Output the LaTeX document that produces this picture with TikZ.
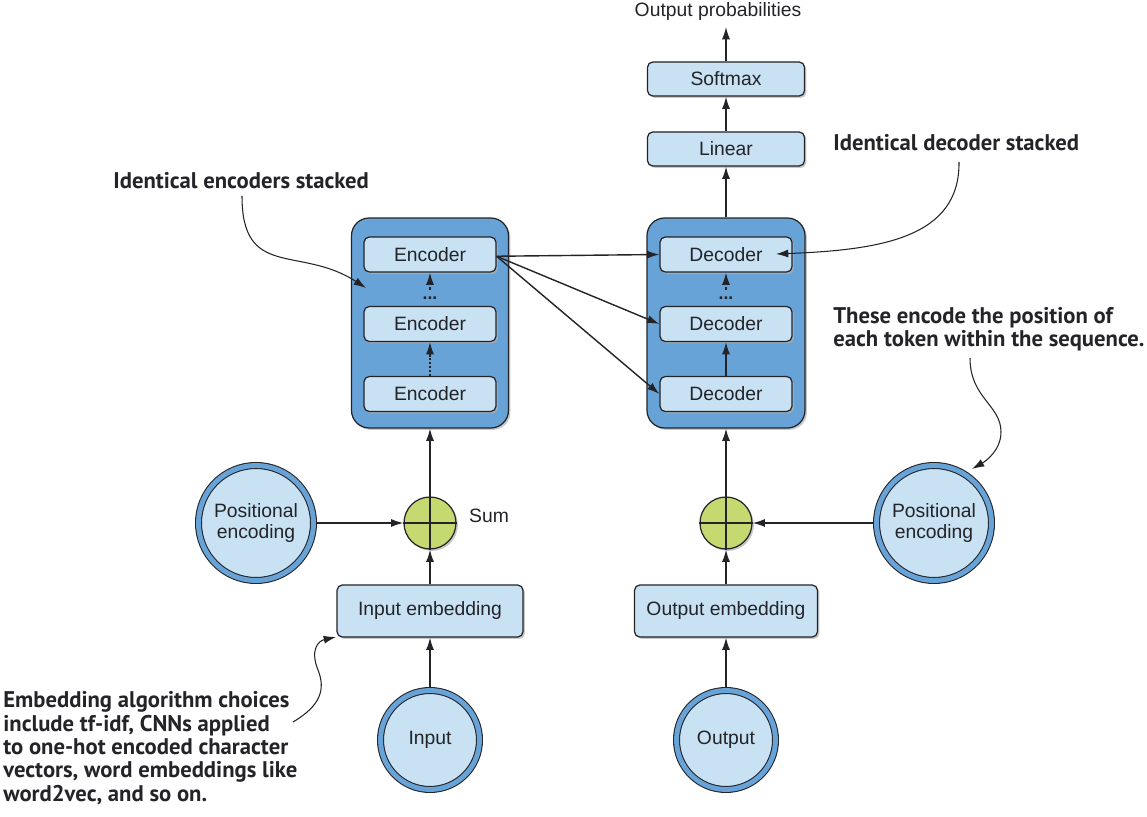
\documentclass[tikz,border=0pt]{standalone}
\usepackage{fontspec}
\setmainfont{Liberation Sans}
\newfontfamily\annofont{PT Sans}
\usetikzlibrary{arrows.meta,shadows}
\definecolor{outerblue}{RGB}{104,163,216}
\definecolor{lightblue}{RGB}{200,226,244}
\definecolor{sumgreen}{RGB}{196,218,112}
\definecolor{edge}{RGB}{35,35,40}
\tikzset{
  shade/.style={drop shadow={shadow xshift=1.1pt,shadow yshift=-1.1pt,fill=black!30,opacity=0.7}},
  txt/.style={font=\fontsize{11}{13}\selectfont, text=edge},
  box/.style={txt, draw=edge, line width=0.7pt, fill=lightblue, rounded corners=3pt, shade, inner sep=0pt},
  stackbox/.style={draw=edge, line width=0.7pt, fill=outerblue, rounded corners=10pt, shade,
     minimum width=3.14cm, minimum height=4.2cm, inner sep=0pt},
  cellbox/.style={box, minimum width=2.64cm, minimum height=0.70cm},
  topbox/.style={box, minimum width=3.14cm, minimum height=0.68cm},
  embbox/.style={box, minimum height=1.04cm},
  ring/.style={txt, circle, draw=edge, line width=0.6pt, double=outerblue, double distance=2.8pt,
     fill=lightblue, align=center, inner sep=0pt, outer sep=2pt, shade},
  sumnode/.style={circle, draw=edge, line width=0.7pt, fill=sumgreen, minimum size=1.04cm, inner sep=0pt, shade},
  arr/.style={draw=edge, line width=0.8pt, -{Latex[length=7pt,width=4.6pt]}},
  dasharr/.style={arr, dash pattern=on 2pt off 1.5pt},
  dotarr/.style={arr, dash pattern=on 1.2pt off 1pt},
  annoarr/.style={draw=edge, line width=0.6pt, -{Latex[length=7pt,width=4.6pt]}},
  anno/.style={font=\annofont\bfseries\fontsize{12.9}{13.3}\selectfont, text=edge, align=left, inner sep=0pt, anchor=west},
  dots/.style={font=\bfseries\fontsize{10}{10}\selectfont, text=edge, inner sep=0pt}
}
\begin{document}
\begin{tikzpicture}[x=0.02cm,y=-0.02cm]
\useasboundingbox (0,0) rectangle (1147,817);

% stacks
\node[stackbox] (encouter) at (430,323) {};
\node[stackbox, minimum width=3.16cm] (decouter) at (726,323) {};
\node[cellbox] (enc1) at (430,254.5) {Encoder};
\node[cellbox] (enc2) at (430,324) {Encoder};
\node[cellbox] (enc3) at (430,394) {Encoder};
\node[cellbox] (dec1) at (726,254.5) {Decoder};
\node[cellbox] (dec2) at (726,324) {Decoder};
\node[cellbox] (dec3) at (726,394) {Decoder};
\node[dots] (edots) at (430,298) {...};
\node[dots] (ddots) at (726,298) {...};

% top
\node[topbox] (linear) at (726,149) {Linear};
\node[topbox] (softmax) at (726,79) {Softmax};
\node[txt, inner sep=0pt] (outprob) at (718,12) {Output probabilities};
\coordinate (probtip) at (726,27);

% sums and positional encodings
\node[sumnode] (sum1) at (430,523) {};
\node[sumnode] (sum2) at (726,523) {};
\draw[edge, line width=0.7pt] (sum1.north) -- (sum1.south) (sum1.west) -- (sum1.east);
\draw[edge, line width=0.7pt] (sum2.north) -- (sum2.south) (sum2.west) -- (sum2.east);
\node[txt, inner sep=0pt] (sumlabel) at (489,516) {Sum};
\node[ring, minimum size=2.3cm] (pe1) at (256,523) {Positional\\[-1pt]encoding};
\node[ring, minimum size=2.3cm] (pe2) at (934,523) {Positional\\[-1pt]encoding};

% embeddings and inputs
\node[embbox, minimum width=3.72cm] (inemb) at (430,611) {Input embedding};
\node[embbox, minimum width=3.66cm] (outemb) at (726,611) {Output embedding};
\node[ring, minimum size=1.98cm] (inp) at (430,740) {Input};
\node[ring, minimum size=1.98cm] (outp) at (726,740) {Output};

% main connectors
\draw[arr] (inp) -- (inemb);
\draw[arr] (inemb) -- (sum1);
\draw[arr] (sum1) -- (encouter);
\draw[arr] (pe1) -- (sum1);
\draw[arr] (outp) -- (outemb);
\draw[arr] (outemb) -- (sum2);
\draw[arr] (sum2) -- (decouter);
\draw[arr] (pe2) -- (sum2);
\draw[arr] (decouter) -- (linear);
\draw[arr] (linear) -- (softmax);
\draw[arr] (softmax) -- (probtip);
\draw[dotarr] (enc3) -- (enc2);
\draw[dasharr] ([yshift=3.5pt]edots.north) -- (enc1);
\draw[arr] (dec3) -- (dec2);
\draw[dasharr] ([yshift=3.5pt]ddots.north) -- (dec1);
\draw[arr] ([yshift=-1pt]enc1.east) -- (dec1.west);
\draw[arr] ([yshift=-1pt]enc1.east) -- (dec2.west);
\draw[arr] ([yshift=-1pt]enc1.east) -- (dec3.west);

% annotations
\node[anno] (a1) at (113,181) {Identical encoders stacked};
\coordinate (a1s) at (242,196);
\coordinate (a1e) at (366,288);
\draw[annoarr] (a1s) .. controls (242,280) and (300,245) .. (a1e);

\node[anno] (a2) at (833,143) {Identical decoder stacked};
\coordinate (a2s) at (959,162);
\coordinate (a2e) at (776,254);
\draw[annoarr] (a2s) .. controls (960,238) and (880,250) .. (a2e);

\node[anno] (a3) at (833,329) {These encode the position of\\each token within the sequence.};
\coordinate (a3s) at (970,358);
\coordinate (a3e) at (972,469);
\draw[annoarr] (a3s) .. controls (970,398) and (1001,405) .. (1001,432) .. controls (1001,450) and (986,461) .. (a3e);

\node[anno] (a4) at (3,748) {Embedding algorithm choices\\include tf-idf, CNNs applied\\to one-hot encoded character\\vectors, word embeddings like\\word2vec, and so on.};
\coordinate (a4s) at (293,722);
\coordinate (a4e) at (336,637);
\draw[annoarr] (a4s) .. controls (320,706) and (326,690) .. (318,670) .. controls (310,650) and (318,641) .. (a4e);
\end{tikzpicture}
\end{document}
